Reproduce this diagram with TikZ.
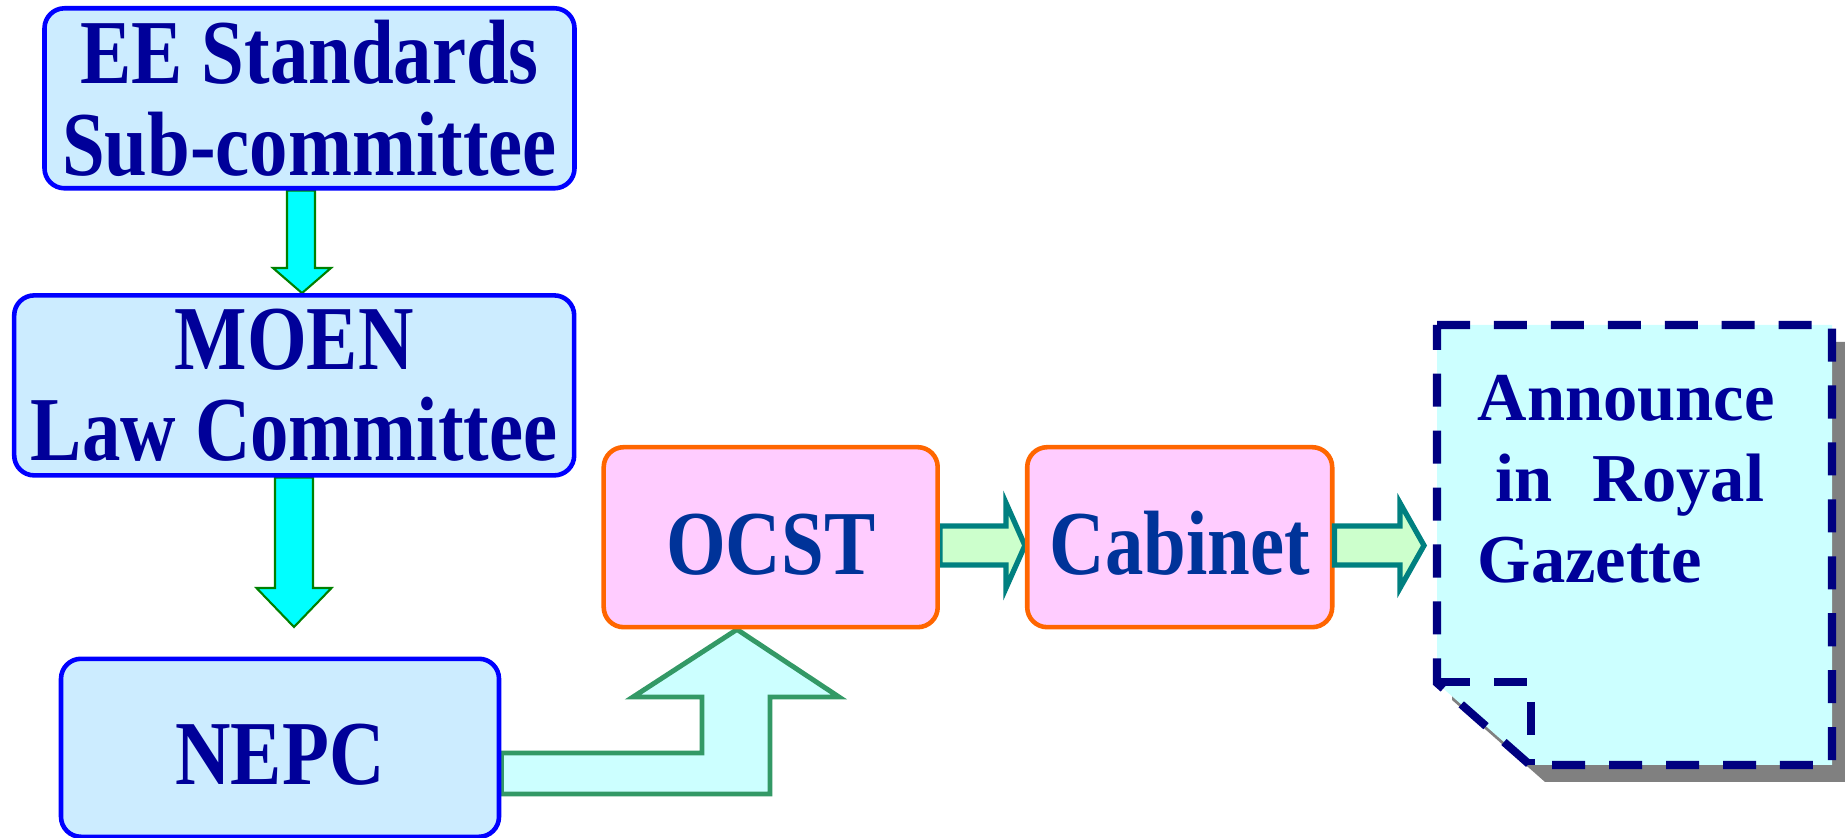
\documentclass[tikz,border=0pt]{standalone}
\usepackage{fontspec}
\setmainfont{Liberation Serif}
\newfontfamily\condserif[FakeStretch=0.84]{Liberation Serif}
\usetikzlibrary{calc}
\definecolor{boxblue}{HTML}{CCECFF}
\definecolor{lineblue}{HTML}{0000FF}
\definecolor{boxpink}{HTML}{FFCCFF}
\definecolor{lineorange}{HTML}{FF6600}
\definecolor{textnavy}{HTML}{000099}
\definecolor{textblue}{HTML}{003399}
\definecolor{arrowcyan}{HTML}{00FFFF}
\definecolor{arrowgreen}{HTML}{008000}
\definecolor{bentfill}{HTML}{CCFFFF}
\definecolor{bentline}{HTML}{339966}
\definecolor{rightfill}{HTML}{CCFFCC}
\definecolor{rightline}{HTML}{008080}
\definecolor{docfill}{HTML}{CCFFFF}
\definecolor{docline}{HTML}{000080}
\pgfdeclarelayer{background}
\pgfsetlayers{background,main}

\begin{document}
\begin{tikzpicture}[office/.style={rectangle, rounded corners=0.2cm, draw=lineblue, fill=boxblue, line width=1.3pt, align=center, text=textnavy, font=\condserif\bfseries\fontsize{26}{26}\selectfont}, council/.style={office, draw=lineorange, fill=boxpink, text=textblue, text height=0.74cm, text depth=0pt}, downarrow/.style={draw=arrowgreen, fill=arrowcyan, line width=0.6pt}, bentarrow/.style={draw=bentline, fill=bentfill, line width=1.4pt}, rightarrow/.style={draw=rightline, fill=rightfill, line width=1.5pt}, notice/.style={draw=docline, fill=docfill, line width=2.3pt, dash pattern=on 9.4pt off 6.8pt}, noticetext/.style={anchor=north west, inner sep=0pt, align=left, text=textnavy, font=\bfseries\fontsize{19.5}{23}\selectfont}]
\useasboundingbox (0,0) rectangle (18.45,8.38);
\node [office, minimum width=5.30cm, minimum height=1.80cm] (ee) at (3.095,7.397) {EE Standards\\Sub-committee};
\node [office, minimum width=5.60cm, minimum height=1.80cm] (moen) at (2.942,4.526) {MOEN\\Law Committee};
\node [office, minimum width=4.38cm, minimum height=1.78cm, text height=0.74cm, text depth=0pt] (nepc) at (2.80,0.902) {NEPC};
\node [council, minimum width=3.34cm, minimum height=1.80cm] (ocst) at (7.707,3.008) {OCST};
\node [council, minimum width=3.05cm, minimum height=1.80cm] (cab) at (11.797,3.008) {Cabinet};
\coordinate (tip2) at (2.94,2.11);
\coordinate (tip4) at (14.24,2.925);
\begin{pgfonlayer}{background}
\draw [downarrow] (2.87,0 |- ee.south) -- (2.87,5.70) -- (2.73,5.70) -- (3.02,0 |- moen.north) -- (3.31,5.70) -- (3.15,5.70) -- (3.15,0 |- ee.south) -- cycle;
\draw [downarrow] (2.75,0 |- moen.south) -- (2.75,2.50) -- (2.565,2.50) -- (tip2) -- (3.315,2.50) -- (3.13,2.50) -- (3.13,0 |- moen.south) -- cycle;
\draw [bentarrow] (nepc.east |- 0,0.85) -- (7.02,0.85) -- (7.02,1.41) -- (6.33,1.41) -- (7.37,0 |- ocst.south) -- (8.39,1.41) -- (7.70,1.41) -- (7.70,0.44) -- (nepc.east |- 0,0.44) -- cycle;
\draw [rightarrow] (ocst.east |- 0,3.12) -- (10.06,3.12) -- (10.06,3.35) -- (cab.west |- 0,2.925) -- (10.06,2.50) -- (10.06,2.73) -- (ocst.east |- 0,2.73) -- cycle;
\end{pgfonlayer}
\draw [rightarrow] (cab.east |- 0,3.12) -- (14.00,3.12) -- (14.00,3.35) -- (tip4) -- (14.00,2.50) -- (14.00,2.73) -- (cab.east |- 0,2.73) -- cycle;
% gazette sheet
\fill [gray] (14.52,4.96) -- (18.47,4.96) -- (18.47,0.56) -- (15.45,0.56) -- (14.52,1.38) -- cycle;
\draw [notice] (14.37,5.13) -- (18.32,5.13) -- (18.32,0.73) -- (15.30,0.73) -- (14.37,1.55) -- cycle;
\draw [notice, fill=none] (14.37,1.56) -- (15.31,1.56) -- (15.31,0.73);
\node [noticetext] (gazette) at (14.77,4.63) {Announce\\\hspace*{0.18cm}in\hspace{0.4cm}Royal\\Gazette};
\end{tikzpicture}
\end{document}
